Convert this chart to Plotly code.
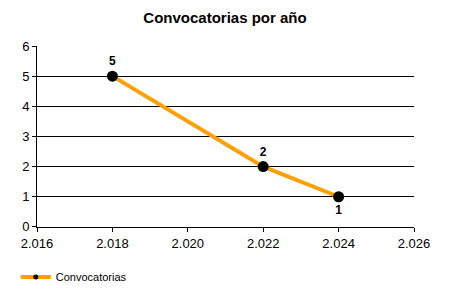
import plotly.graph_objects as go

years = [2018, 2022, 2024]
counts = [5, 2, 1]
label_pos = ["top center", "top center", "bottom center"]
x_tick_vals = [2016, 2018, 2020, 2022, 2024, 2026]
x_tick_text = ["2.016", "2.018", "2.020", "2.022", "2.024", "2.026"]
y_tick_vals = [0, 1, 2, 3, 4, 5, 6]
series_name = "Convocatorias"

fig = go.Figure()
fig.add_trace(go.Scatter(
    x=years, y=counts, mode="lines+markers+text", name=series_name,
    line=dict(color="#FFA000", width=4),
    marker=dict(color="black", size=11),
    text=[str(c) for c in counts], textposition=label_pos,
    textfont=dict(family="Liberation Sans, Arial", size=12, color="black"),
    texttemplate="<b>%{text}</b>",
    cliponaxis=False, showlegend=False,
))
# legend entry with a smaller marker
fig.add_trace(go.Scatter(
    x=[None], y=[None], mode="lines+markers", name=series_name,
    line=dict(color="#FFA000", width=4),
    marker=dict(color="black", size=5),
))

fig.update_layout(
    width=450, height=300,
    margin=dict(l=37, r=36, t=46, b=72),
    paper_bgcolor="white", plot_bgcolor="white",
    font=dict(family="Liberation Sans, Arial", size=13, color="black"),
    title=dict(text="<b>Convocatorias por año</b>", x=0.5, xanchor="center",
               y=1 - 18 / 300, yanchor="middle", font=dict(size=15)),
    showlegend=True,
    legend=dict(orientation="h", xref="container", yref="container",
                x=0.035, xanchor="left", y=1 - 277 / 300, yanchor="middle",
                font=dict(size=11), itemwidth=30),
    xaxis=dict(range=[2016, 2026], tickvals=x_tick_vals, ticktext=x_tick_text,
               showgrid=False, zeroline=False, showline=True, linecolor="black",
               ticks="outside", ticklen=4, tickcolor="black"),
    yaxis=dict(range=[0, 6], tickvals=y_tick_vals, showgrid=True, gridcolor="black",
               gridwidth=1, zeroline=False, showline=True, linecolor="black",
               ticks="outside", ticklen=4, tickcolor="black"),
)

fig.write_html("out.html")
